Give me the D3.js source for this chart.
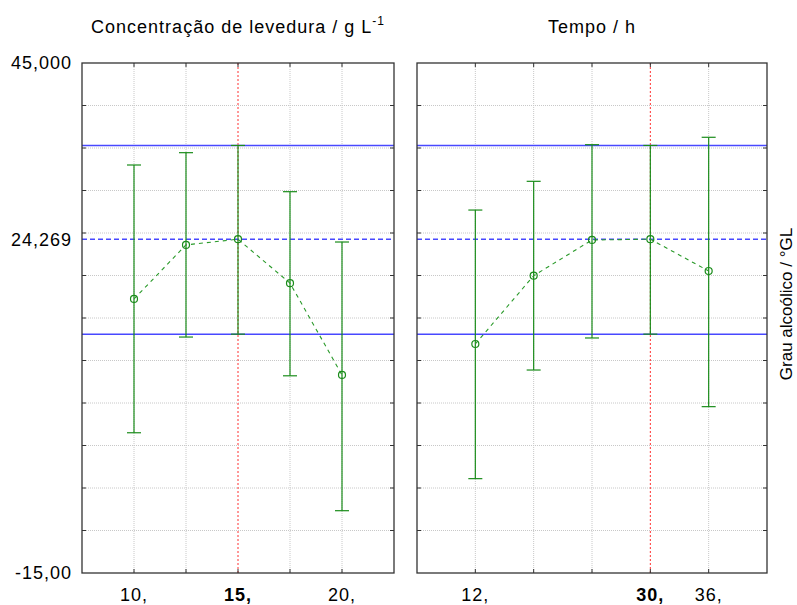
<!DOCTYPE html>
<html><head><meta charset="utf-8">
<script src="https://cdn.jsdelivr.net/npm/d3@7"></script>
<style>body{margin:0;background:#fff}svg{display:block}text{font-family:"Liberation Sans",Arial,sans-serif;fill:#000}</style>
</head><body><svg id="c" width="797" height="605"></svg>
<script>
// Panel 1: yeast concentration (g/L)
const concX = [10, 12.5, 15, 17.5, 20];
const concMean = [17.24, 23.6, 24.27, 19.1, 8.3];
const concLow = [1.5, 12.76, 13.1, 8.2, -7.67];
const concHigh = [33.0, 34.45, 35.3, 29.86, 23.94];
const concTickLabels = ["10,", "15,", "20,"];
const concTickValues = [10, 15, 20];
// Panel 2: time (h)
const timeX = [12, 18, 24, 30, 36];
const timeMean = [11.94, 19.98, 24.18, 24.27, 20.53];
const timeLow = [-3.9, 8.88, 12.65, 13.1, 4.57];
const timeHigh = [27.7, 31.08, 35.39, 35.3, 36.26];
const timeTickLabels = ["12,", "30,", "36,"];
const timeTickValues = [12, 30, 36];
// Reference lines
const predicted = 24.269;
const ciLow = 13.1;
const ciHigh = 35.3;
const yTickLabels = ["45,000", "24,269", "-15,00"];
const yTickValues = [45, 24.269, -15];

const svg = d3.select("#c");
const yTop = 63, yBot = 573;
const y = d3.scaleLinear().domain([-15, 45]).range([yBot, yTop]);
const gridY = d3.range(-15, 45.01, 5);

const panels = [
  {x0: 82, x1: 394, domain: [7.5, 22.5], grid: [10, 12.5, 15, 17.5, 20], xs: concX, mean: concMean, lo: concLow, hi: concHigh,
   tickVals: concTickValues, tickLabs: concTickLabels, opt: 15, title: "Concentração de levedura / g L", sup: "-1"},
  {x0: 417, x1: 767, domain: [6, 42], grid: [12, 18, 24, 30, 36], xs: timeX, mean: timeMean, lo: timeLow, hi: timeHigh,
   tickVals: timeTickValues, tickLabs: timeTickLabels, opt: 30, title: "Tempo / h", sup: null}
];

panels.forEach((p, pi) => {
  const x = d3.scaleLinear().domain(p.domain).range([p.x0, p.x1]);
  const g = svg.append("g");
  // grid
  g.selectAll(".gy").data(gridY.slice(1, -1)).join("line")
    .attr("x1", p.x0).attr("x2", p.x1).attr("y1", d => y(d)).attr("y2", d => y(d))
    .attr("stroke", "#c8c8c8").attr("stroke-width", 1).attr("stroke-dasharray", "1,1");
  g.selectAll(".gx").data(p.grid.filter(d => d !== p.opt)).join("line")
    .attr("x1", d => x(d)).attr("x2", d => x(d)).attr("y1", yTop).attr("y2", yBot)
    .attr("stroke", "#c8c8c8").attr("stroke-width", 1).attr("stroke-dasharray", "1,1");
  // optimum red line
  g.append("line").attr("x1", x(p.opt)).attr("x2", x(p.opt)).attr("y1", yTop).attr("y2", yBot)
    .attr("stroke", "#ff3030").attr("stroke-width", 1).attr("stroke-dasharray", "2,2");
  // blue reference lines
  [ciLow, ciHigh].forEach(v => g.append("line").attr("x1", p.x0).attr("x2", p.x1)
    .attr("y1", y(v)).attr("y2", y(v)).attr("stroke", "#4848ff").attr("stroke-width", 1.5));
  g.append("line").attr("x1", p.x0).attr("x2", p.x1).attr("y1", y(predicted)).attr("y2", y(predicted))
    .attr("stroke", "#4848ff").attr("stroke-width", 1.5).attr("stroke-dasharray", "5,3");
  // error bars
  const idx = d3.range(p.xs.length);
  g.selectAll(".eb").data(idx).join("line")
    .attr("x1", i => x(p.xs[i])).attr("x2", i => x(p.xs[i]))
    .attr("y1", i => y(p.lo[i])).attr("y2", i => y(p.hi[i]))
    .attr("stroke", "#1a8c1a").attr("stroke-width", 1.2);
  ["lo", "hi"].forEach(k => g.selectAll(".cap" + k).data(idx).join("line")
    .attr("x1", i => x(p.xs[i]) - 7).attr("x2", i => x(p.xs[i]) + 7)
    .attr("y1", i => y(p[k][i])).attr("y2", i => y(p[k][i]))
    .attr("stroke", "#1a8c1a").attr("stroke-width", 1.2));
  // dashed curve
  const line = d3.line().x(i => x(p.xs[i])).y(i => y(p.mean[i])).curve(d3.curveLinear);
  g.append("path").attr("d", line(idx)).attr("fill", "none")
    .attr("stroke", "#2a9a2a").attr("stroke-width", 1.1).attr("stroke-dasharray", "4,4");
  g.selectAll(".pt").data(idx).join("circle")
    .attr("cx", i => x(p.xs[i])).attr("cy", i => y(p.mean[i])).attr("r", 3.5)
    .attr("fill", "none").attr("stroke", "#1a8c1a").attr("stroke-width", 1.2);
  // frame
  g.append("rect").attr("x", p.x0).attr("y", yTop).attr("width", p.x1 - p.x0).attr("height", yBot - yTop)
    .attr("fill", "none").attr("stroke", "#333").attr("stroke-width", 1.3);
  // inward ticks
  g.selectAll(".tl").data(gridY.slice(1, -1)).join("line")
    .attr("x1", p.x0).attr("x2", p.x0 + 4).attr("y1", d => y(d)).attr("y2", d => y(d)).attr("stroke", "#333");
  g.selectAll(".tr").data(gridY.slice(1, -1)).join("line")
    .attr("x1", p.x1 - 4).attr("x2", p.x1).attr("y1", d => y(d)).attr("y2", d => y(d)).attr("stroke", "#333");
  g.selectAll(".tt").data(p.grid).join("line")
    .attr("x1", d => x(d)).attr("x2", d => x(d)).attr("y1", yTop).attr("y2", yTop + 4).attr("stroke", "#333");
  g.selectAll(".tb").data(p.grid).join("line")
    .attr("x1", d => x(d)).attr("x2", d => x(d)).attr("y1", yBot - 4).attr("y2", yBot).attr("stroke", "#333");
  // x tick labels
  g.selectAll(".xl").data(p.tickVals).join("text")
    .attr("x", d => x(d)).attr("y", 601).attr("text-anchor", "middle").attr("font-size", 18).attr("letter-spacing", 1)
    .attr("font-weight", d => d === p.opt ? "bold" : "normal")
    .text((d, i) => p.tickLabs[i]);
  // title
  const t = g.append("text").attr("x", (p.x0 + p.x1) / 2).attr("y", 33).attr("text-anchor", "middle")
    .attr("font-size", 18).attr("letter-spacing", 1);
  t.append("tspan").text(p.title);
  if (p.sup) t.append("tspan").attr("font-size", 12).attr("dy", -8).text(p.sup);
});

// y tick labels
svg.selectAll(".yl").data(yTickValues).join("text")
  .attr("x", 72).attr("y", d => y(d)).attr("dy", "0.36em").attr("text-anchor", "end").attr("font-size", 18)
  .attr("letter-spacing", 1)
  .text((d, i) => yTickLabels[i]);

// right axis title
svg.append("text").attr("transform", "translate(792,304) rotate(-90)").attr("text-anchor", "middle")
  .attr("font-size", 17).text("Grau alcoólico / °GL");
</script></body></html>
